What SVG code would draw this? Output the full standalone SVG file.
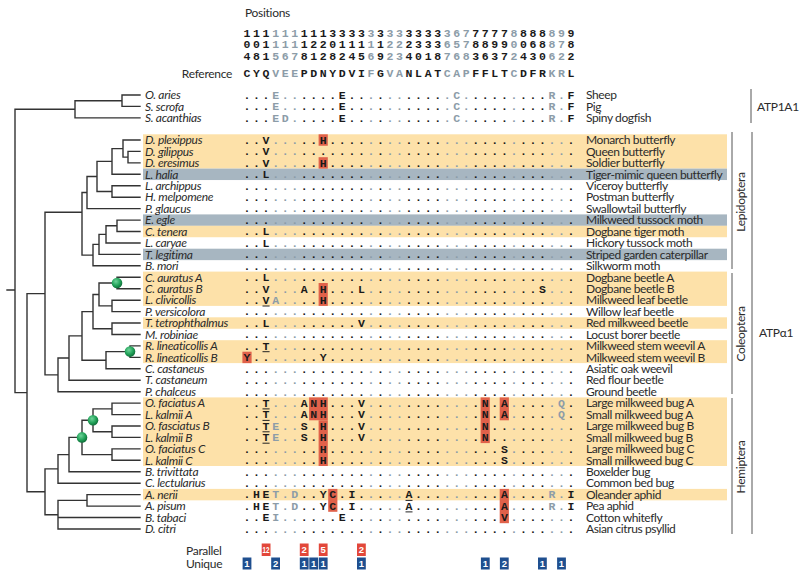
<svg xmlns="http://www.w3.org/2000/svg" width="800" height="577" viewBox="0 0 800 577">
<style>
.aln{font-family:"Liberation Mono",monospace;font-weight:bold;font-size:11.5px;letter-spacing:2.63px;fill:#1a1a1a}
.g{fill:#8c9ca8}
.lbl{font-family:Lato,"Open Sans",sans-serif;font-size:12px;letter-spacing:-0.3px;fill:#2b2b2b}
.sp{font-style:italic}
.cn{font-family:Lato,"Open Sans",sans-serif;font-size:12px;letter-spacing:-0.4px;fill:#2b2b2b}
.or{fill:#fde1a9}
.gb{fill:#a7b6c1}
.rb{fill:#e0614a}
.ul{stroke:#222;stroke-width:1}
.tree{stroke:#333;stroke-width:1.4;fill:none;stroke-linecap:square}
.br{stroke:#555;stroke-width:1;fill:none}
.pb{fill:#e2473a}
.ub{fill:#1f4f8f}
.bn{font-family:"Liberation Sans",Arial,sans-serif;font-weight:bold;font-size:9.5px;fill:#fff;text-anchor:middle}
</style>
<defs>
<radialGradient id="gd" cx="0.4" cy="0.35" r="0.65">
<stop offset="0" stop-color="#6fd39a"/>
<stop offset="0.6" stop-color="#23a35a"/>
<stop offset="1" stop-color="#10703a"/>
</radialGradient>
</defs>
<rect width="800" height="577" fill="#fff"/>

<!-- row backgrounds -->
<g id="bands">
<rect class="or" x="143" y="134.3" width="584" height="34.3"/>
<rect class="gb" x="143" y="168.6" width="584" height="11.44"/>
<rect class="gb" x="143" y="214.4" width="584" height="11.44"/>
<rect class="or" x="143" y="225.8" width="584" height="11.44"/>
<rect class="gb" x="143" y="248.7" width="584" height="11.44"/>
<rect class="or" x="143" y="271.6" width="584" height="34.3"/>
<rect class="or" x="143" y="317.3" width="584" height="11.44"/>
<rect class="or" x="143" y="340.2" width="584" height="22.9"/>
<rect class="or" x="143" y="397.4" width="584" height="68.6"/>
<rect class="or" x="143" y="488.9" width="584" height="11.44"/>
</g>

<!-- header -->
<g id="header">
<text class="lbl" x="245" y="17">Positions</text>
<text class="aln" x="243.55" y="37">111<tspan class="g">111</tspan>1113333<tspan class="g">3</tspan>3<tspan class="g">33</tspan>3333<tspan class="g">367</tspan>7777<tspan class="g">8</tspan>888<tspan class="g">89</tspan>9</text>
<text class="aln" x="243.55" y="48.4">001<tspan class="g">111</tspan>1220111<tspan class="g">1</tspan>1<tspan class="g">22</tspan>2333<tspan class="g">657</tspan>8899<tspan class="g">0</tspan>068<tspan class="g">87</tspan>8</text>
<text class="aln" x="243.55" y="59.8">481<tspan class="g">567</tspan>8128245<tspan class="g">6</tspan>9<tspan class="g">23</tspan>4018<tspan class="g">768</tspan>3637<tspan class="g">2</tspan>430<tspan class="g">62</tspan>2</text>
<text class="lbl" x="232" y="77.6" text-anchor="end">Reference</text>
<text class="aln" x="243.55" y="77.3">CYQ<tspan class="g">VEE</tspan>PDNYDVI<tspan class="g">F</tspan>G<tspan class="g">VA</tspan>NLAT<tspan class="g">CAP</tspan>FFLT<tspan class="g">C</tspan>DFR<tspan class="g">KR</tspan>L</text>
</g>

<!-- red substitution boxes -->
<g id="boxes">
<rect class="rb" x="318.6" y="134.3" width="9.2" height="11.44"/>
<rect class="rb" x="318.6" y="157.2" width="9.2" height="11.44"/>
<rect class="rb" x="318.6" y="283" width="9.2" height="22.9"/>
<rect class="rb" x="242.4" y="351.7" width="9.2" height="11.44"/>
<rect class="rb" x="309.1" y="397.4" width="18.7" height="22.9"/>
<rect class="rb" x="318.6" y="420.3" width="9.2" height="45.7"/>
<rect class="rb" x="480.6" y="397.4" width="9.2" height="45.7"/>
<rect class="rb" x="499.7" y="397.4" width="9.2" height="22.9"/>
<rect class="rb" x="328.2" y="488.9" width="9.2" height="22.9"/>
<rect class="rb" x="499.7" y="488.9" width="9.2" height="34.3"/>
</g>

<!-- vertebrate rows -->
<g id="r-oaries"><text class="lbl sp" x="145" y="99.2">O. aries</text><text class="aln" x="243.55" y="98.8">...<tspan class="g">E..</tspan>....E..<tspan class="g">.</tspan>.<tspan class="g">..</tspan>....<tspan class="g">.C.</tspan>....<tspan class="g">.</tspan>...<tspan class="g">R.</tspan>F</text><text class="cn" x="586" y="99.2">Sheep</text></g>
<g id="r-sscrofa"><text class="lbl sp" x="145" y="110.6">S. scrofa</text><text class="aln" x="243.55" y="110.2">...<tspan class="g">E..</tspan>....E..<tspan class="g">.</tspan>.<tspan class="g">..</tspan>....<tspan class="g">.C.</tspan>....<tspan class="g">.</tspan>...<tspan class="g">R.</tspan>F</text><text class="cn" x="586" y="110.6">Pig</text></g>
<g id="r-sacanthias"><text class="lbl sp" x="145" y="122.1">S. acanthias</text><text class="aln" x="243.55" y="121.7">...<tspan class="g">ED.</tspan>....E..<tspan class="g">.</tspan>.<tspan class="g">..</tspan>....<tspan class="g">.C.</tspan>....<tspan class="g">.</tspan>...<tspan class="g">R.</tspan>F</text><text class="cn" x="586" y="122.1">Spiny dogfish</text></g>

<!-- insect rows -->
<g id="r-dplexippus"><text class="lbl sp" x="145" y="144.2">D. plexippus</text><text class="aln" x="243.55" y="143.8">..V<tspan class="g">...</tspan>..H....<tspan class="g">.</tspan>.<tspan class="g">..</tspan>....<tspan class="g">...</tspan>....<tspan class="g">.</tspan>...<tspan class="g">..</tspan>.</text><text class="cn" x="586" y="144.2">Monarch butterfly</text></g>
<g id="r-dgilippus"><text class="lbl sp" x="145" y="155.6">D. gilippus</text><text class="aln" x="243.55" y="155.2">..V<tspan class="g">...</tspan>.......<tspan class="g">.</tspan>.<tspan class="g">..</tspan>....<tspan class="g">...</tspan>....<tspan class="g">.</tspan>...<tspan class="g">..</tspan>.</text><text class="cn" x="586" y="155.6">Queen butterfly</text></g>
<g id="r-deresimus"><text class="lbl sp" x="145" y="167.1">D. eresimus</text><text class="aln" x="243.55" y="166.7">..V<tspan class="g">...</tspan>..H....<tspan class="g">.</tspan>.<tspan class="g">..</tspan>....<tspan class="g">...</tspan>....<tspan class="g">.</tspan>...<tspan class="g">..</tspan>.</text><text class="cn" x="586" y="167.1">Soldier butterfly</text></g>
<g id="r-lhalia"><text class="lbl sp" x="145" y="178.5">L. halia</text><text class="aln" x="243.55" y="178.1">..L<tspan class="g">...</tspan>.......<tspan class="g">.</tspan>.<tspan class="g">..</tspan>....<tspan class="g">...</tspan>....<tspan class="g">.</tspan>...<tspan class="g">..</tspan>.</text><text class="cn" x="586" y="178.5">Tiger-mimic queen butterfly</text></g>
<g id="r-larchippus"><text class="lbl sp" x="145" y="190">L. archippus</text><text class="aln" x="243.55" y="189.6">...<tspan class="g">...</tspan>.......<tspan class="g">.</tspan>.<tspan class="g">..</tspan>....<tspan class="g">...</tspan>....<tspan class="g">.</tspan>...<tspan class="g">..</tspan>.</text><text class="cn" x="586" y="190">Viceroy butterfly</text></g>
<g id="r-hmelpomene"><text class="lbl sp" x="145" y="201.4">H. melpomene</text><text class="aln" x="243.55" y="201">...<tspan class="g">...</tspan>.......<tspan class="g">.</tspan>.<tspan class="g">..</tspan>....<tspan class="g">...</tspan>....<tspan class="g">.</tspan>...<tspan class="g">..</tspan>.</text><text class="cn" x="586" y="201.4">Postman butterfly</text></g>
<g id="r-pglaucus"><text class="lbl sp" x="145" y="212.8">P. glaucus</text><text class="aln" x="243.55" y="212.4">...<tspan class="g">...</tspan>.......<tspan class="g">.</tspan>.<tspan class="g">..</tspan>....<tspan class="g">...</tspan>....<tspan class="g">.</tspan>...<tspan class="g">..</tspan>.</text><text class="cn" x="586" y="212.8">Swallowtail butterfly</text></g>
<g id="r-eegle"><text class="lbl sp" x="145" y="224.3">E. egle</text><text class="aln" x="243.55" y="223.9">...<tspan class="g">...</tspan>.......<tspan class="g">.</tspan>.<tspan class="g">..</tspan>....<tspan class="g">...</tspan>....<tspan class="g">.</tspan>...<tspan class="g">..</tspan>.</text><text class="cn" x="586" y="224.3">Milkweed tussock moth</text></g>
<g id="r-ctenera"><text class="lbl sp" x="145" y="235.7">C. tenera</text><text class="aln" x="243.55" y="235.3">..L<tspan class="g">...</tspan>.......<tspan class="g">.</tspan>.<tspan class="g">..</tspan>....<tspan class="g">...</tspan>....<tspan class="g">.</tspan>...<tspan class="g">..</tspan>.</text><text class="cn" x="586" y="235.7">Dogbane tiger moth</text></g>
<g id="r-lcaryae"><text class="lbl sp" x="145" y="247.2">L. caryae</text><text class="aln" x="243.55" y="246.8">..L<tspan class="g">...</tspan>.......<tspan class="g">.</tspan>.<tspan class="g">..</tspan>....<tspan class="g">...</tspan>....<tspan class="g">.</tspan>...<tspan class="g">..</tspan>.</text><text class="cn" x="586" y="247.2">Hickory tussock moth</text></g>
<g id="r-tlegitima"><text class="lbl sp" x="145" y="258.6">T. legitima</text><text class="aln" x="243.55" y="258.2">...<tspan class="g">...</tspan>.......<tspan class="g">.</tspan>.<tspan class="g">..</tspan>....<tspan class="g">...</tspan>....<tspan class="g">.</tspan>...<tspan class="g">..</tspan>.</text><text class="cn" x="586" y="258.6">Striped garden caterpillar</text></g>
<g id="r-bmori"><text class="lbl sp" x="145" y="270">B. mori</text><text class="aln" x="243.55" y="269.6">...<tspan class="g">...</tspan>.......<tspan class="g">.</tspan>.<tspan class="g">..</tspan>....<tspan class="g">...</tspan>....<tspan class="g">.</tspan>...<tspan class="g">..</tspan>.</text><text class="cn" x="586" y="270">Silkworm moth</text></g>
<g id="r-cauratusA"><text class="lbl sp" x="145" y="281.5">C. auratus A</text><text class="aln" x="243.55" y="281.1">..L<tspan class="g">...</tspan>.......<tspan class="g">.</tspan>.<tspan class="g">..</tspan>....<tspan class="g">...</tspan>....<tspan class="g">.</tspan>...<tspan class="g">..</tspan>.</text><text class="cn" x="586" y="281.5">Dogbane beetle A</text></g>
<g id="r-cauratusB"><text class="lbl sp" x="145" y="292.9">C. auratus B</text><text class="aln" x="243.55" y="292.5">..V<tspan class="g">...</tspan>A.H...L<tspan class="g">.</tspan>.<tspan class="g">..</tspan>....<tspan class="g">...</tspan>....<tspan class="g">.</tspan>..S<tspan class="g">..</tspan>.</text><text class="cn" x="586" y="292.9">Dogbane beetle B</text></g>
<g id="r-lclivicollis"><text class="lbl sp" x="145" y="304.4">L. clivicollis</text><text class="aln" x="243.55" y="304">..V<tspan class="g">A..</tspan>..H....<tspan class="g">.</tspan>.<tspan class="g">..</tspan>....<tspan class="g">...</tspan>....<tspan class="g">.</tspan>...<tspan class="g">..</tspan>.</text><text class="cn" x="586" y="304.4">Milkweed leaf beetle</text></g>
<g id="r-pversicolora"><text class="lbl sp" x="145" y="315.8">P. versicolora</text><text class="aln" x="243.55" y="315.4">...<tspan class="g">...</tspan>.......<tspan class="g">.</tspan>.<tspan class="g">..</tspan>....<tspan class="g">...</tspan>....<tspan class="g">.</tspan>...<tspan class="g">..</tspan>.</text><text class="cn" x="586" y="315.8">Willow leaf beetle</text></g>
<g id="r-ttetrophthalmus"><text class="lbl sp" x="145" y="327.2">T. tetrophthalmus</text><text class="aln" x="243.55" y="326.8">..L<tspan class="g">...</tspan>......V<tspan class="g">.</tspan>.<tspan class="g">..</tspan>....<tspan class="g">...</tspan>....<tspan class="g">.</tspan>...<tspan class="g">..</tspan>.</text><text class="cn" x="586" y="327.2">Red milkweed beetle</text></g>
<g id="r-mrobiniae"><text class="lbl sp" x="145" y="338.7">M. robiniae</text><text class="aln" x="243.55" y="338.3">...<tspan class="g">...</tspan>.......<tspan class="g">.</tspan>.<tspan class="g">..</tspan>....<tspan class="g">...</tspan>....<tspan class="g">.</tspan>...<tspan class="g">..</tspan>.</text><text class="cn" x="586" y="338.7">Locust borer beetle</text></g>
<g id="r-rlineaticollisA"><text class="lbl sp" x="145" y="350.1">R. lineaticollis A</text><text class="aln" x="243.55" y="349.7">..T<tspan class="g">...</tspan>.......<tspan class="g">.</tspan>.<tspan class="g">..</tspan>....<tspan class="g">...</tspan>....<tspan class="g">.</tspan>...<tspan class="g">..</tspan>.</text><text class="cn" x="586" y="350.1">Milkweed stem weevil A</text></g>
<g id="r-rlineaticollisB"><text class="lbl sp" x="145" y="361.6">R. lineaticollis B</text><text class="aln" x="243.55" y="361.2">Y..<tspan class="g">...</tspan>..Y....<tspan class="g">.</tspan>.<tspan class="g">..</tspan>....<tspan class="g">...</tspan>....<tspan class="g">.</tspan>...<tspan class="g">..</tspan>.</text><text class="cn" x="586" y="361.6">Milkweed stem weevil B</text></g>
<g id="r-ccastaneus"><text class="lbl sp" x="145" y="373">C. castaneus</text><text class="aln" x="243.55" y="372.6">...<tspan class="g">...</tspan>.......<tspan class="g">.</tspan>.<tspan class="g">..</tspan>....<tspan class="g">...</tspan>....<tspan class="g">.</tspan>...<tspan class="g">..</tspan>.</text><text class="cn" x="586" y="373">Asiatic oak weevil</text></g>
<g id="r-tcastaneum"><text class="lbl sp" x="145" y="384.4">T. castaneum</text><text class="aln" x="243.55" y="384">...<tspan class="g">...</tspan>.......<tspan class="g">.</tspan>.<tspan class="g">..</tspan>....<tspan class="g">...</tspan>....<tspan class="g">.</tspan>...<tspan class="g">..</tspan>.</text><text class="cn" x="586" y="384.4">Red flour beetle</text></g>
<g id="r-pchalceus"><text class="lbl sp" x="145" y="395.9">P. chalceus</text><text class="aln" x="243.55" y="395.5">...<tspan class="g">...</tspan>.......<tspan class="g">.</tspan>.<tspan class="g">..</tspan>....<tspan class="g">...</tspan>....<tspan class="g">.</tspan>...<tspan class="g">..</tspan>.</text><text class="cn" x="586" y="395.9">Ground beetle</text></g>
<g id="r-ofaciatusA"><text class="lbl sp" x="145" y="407.3">O. faciatus A</text><text class="aln" x="243.55" y="406.9">..T<tspan class="g">...</tspan>ANH...V<tspan class="g">.</tspan>.<tspan class="g">..</tspan>....<tspan class="g">...</tspan>.N.A<tspan class="g">.</tspan>...<tspan class="g">.Q</tspan>.</text><text class="cn" x="586" y="407.3">Large milkweed bug A</text></g>
<g id="r-lkalmiiA"><text class="lbl sp" x="145" y="418.8">L. kalmii A</text><text class="aln" x="243.55" y="418.4">..T<tspan class="g">...</tspan>ANH...V<tspan class="g">.</tspan>.<tspan class="g">..</tspan>....<tspan class="g">...</tspan>.N.A<tspan class="g">.</tspan>...<tspan class="g">.Q</tspan>.</text><text class="cn" x="586" y="418.8">Small milkweed bug A</text></g>
<g id="r-ofasciatusB"><text class="lbl sp" x="145" y="430.2">O. fasciatus B</text><text class="aln" x="243.55" y="429.8">..T<tspan class="g">E..</tspan>S.H...V<tspan class="g">.</tspan>.<tspan class="g">..</tspan>....<tspan class="g">...</tspan>.N..<tspan class="g">.</tspan>...<tspan class="g">..</tspan>.</text><text class="cn" x="586" y="430.2">Large milkweed bug B</text></g>
<g id="r-lkalmiiB"><text class="lbl sp" x="145" y="441.6">L. kalmii B</text><text class="aln" x="243.55" y="441.2">..T<tspan class="g">E..</tspan>S.H...V<tspan class="g">.</tspan>.<tspan class="g">..</tspan>....<tspan class="g">...</tspan>.N..<tspan class="g">.</tspan>...<tspan class="g">..</tspan>.</text><text class="cn" x="586" y="441.6">Small milkweed bug B</text></g>
<g id="r-ofaciatusC"><text class="lbl sp" x="145" y="453.1">O. faciatus C</text><text class="aln" x="243.55" y="452.7">...<tspan class="g">...</tspan>..H....<tspan class="g">.</tspan>.<tspan class="g">..</tspan>....<tspan class="g">...</tspan>...S<tspan class="g">.</tspan>...<tspan class="g">..</tspan>.</text><text class="cn" x="586" y="453.1">Large milkweed bug C</text></g>
<g id="r-lkalmiiC"><text class="lbl sp" x="145" y="464.5">L. kalmii C</text><text class="aln" x="243.55" y="464.1">...<tspan class="g">...</tspan>..H....<tspan class="g">.</tspan>.<tspan class="g">..</tspan>....<tspan class="g">...</tspan>...S<tspan class="g">.</tspan>...<tspan class="g">..</tspan>.</text><text class="cn" x="586" y="464.5">Small milkweed bug C</text></g>
<g id="r-btrivittata"><text class="lbl sp" x="145" y="476">B. trivittata</text><text class="aln" x="243.55" y="475.6">...<tspan class="g">...</tspan>.......<tspan class="g">.</tspan>.<tspan class="g">..</tspan>....<tspan class="g">...</tspan>....<tspan class="g">.</tspan>...<tspan class="g">..</tspan>.</text><text class="cn" x="586" y="476">Boxelder bug</text></g>
<g id="r-clectularius"><text class="lbl sp" x="145" y="487.4">C. lectularius</text><text class="aln" x="243.55" y="487">...<tspan class="g">...</tspan>.......<tspan class="g">.</tspan>.<tspan class="g">..</tspan>....<tspan class="g">...</tspan>....<tspan class="g">.</tspan>...<tspan class="g">..</tspan>.</text><text class="cn" x="586" y="487.4">Common bed bug</text></g>
<g id="r-anerii"><text class="lbl sp" x="145" y="498.8">A. nerii</text><text class="aln" x="243.55" y="498.4">.HE<tspan class="g">T.D</tspan>..YC.I.<tspan class="g">.</tspan>.<tspan class="g">..</tspan>A...<tspan class="g">...</tspan>...A<tspan class="g">.</tspan>...<tspan class="g">R.</tspan>I</text><text class="cn" x="586" y="498.8">Oleander aphid</text></g>
<g id="r-apisum"><text class="lbl sp" x="145" y="510.3">A. pisum</text><text class="aln" x="243.55" y="509.9">.HE<tspan class="g">T.D</tspan>..YC.I.<tspan class="g">.</tspan>.<tspan class="g">..</tspan>A...<tspan class="g">...</tspan>...A<tspan class="g">.</tspan>...<tspan class="g">R.</tspan>I</text><text class="cn" x="586" y="510.3">Pea aphid</text></g>
<g id="r-btabaci"><text class="lbl sp" x="145" y="521.7">B. tabaci</text><text class="aln" x="243.55" y="521.3">..E<tspan class="g">I..</tspan>....E..<tspan class="g">.</tspan>.<tspan class="g">..</tspan>....<tspan class="g">...</tspan>...V<tspan class="g">.</tspan>...<tspan class="g">..</tspan>.</text><text class="cn" x="586" y="521.7">Cotton whitefly</text></g>
<g id="r-dcitri"><text class="lbl sp" x="145" y="533.2">D. citri</text><text class="aln" x="243.55" y="532.8">...<tspan class="g">...</tspan>.......<tspan class="g">.</tspan>.<tspan class="g">..</tspan>....<tspan class="g">...</tspan>....<tspan class="g">.</tspan>...<tspan class="g">..</tspan>.</text><text class="cn" x="586" y="533.2">Asian citrus psyllid</text></g>

<!-- underlines -->
<g id="underlines" class="ul">
<line x1="262.5" y1="306" x2="269.6" y2="306"/>
<line x1="262.5" y1="351.7" x2="269.6" y2="351.7"/>
<line x1="262.5" y1="408.9" x2="269.6" y2="408.9"/>
<line x1="262.5" y1="420.4" x2="269.6" y2="420.4"/>
<line x1="262.5" y1="431.8" x2="269.6" y2="431.8"/>
<line x1="262.5" y1="443.2" x2="269.6" y2="443.2"/>
<line x1="405.5" y1="500.4" x2="412.5" y2="500.4"/>
<line x1="405.5" y1="511.9" x2="412.5" y2="511.9"/>
</g>

<!-- tree connectors -->
<g id="connectors">
<path class="tree" d="M122 95V106.4M122 95H140M122 106.4H140M75 100.7V117.9M75 100.7H122M75 117.9H140M15 109.3V392.6M15 109.3H75M15 392.6H27M7 290H15
M27 293.6V491.8M27 293.6H45M27 491.8H45M45 212.3V374.9M45 212.3H82M45 374.9H58
M82 192.5V255.1M82 192.5H87M82 255.1H93M87 176.5V208.6M87 176.5H97M87 208.6H140M97 161.4V191.5M97 161.4H112M97 191.5H112
M112 148.6V174.3M112 148.6H123M112 174.3H140M112 185.8V197.2M112 185.8H140M112 197.2H140M123 140V157.1M123 140H140M123 157.1H128M128 151.4V162.9M128 151.4H140M128 162.9H140
M117 220.1V231.5M117 220.1H140M117 231.5H140M106 225.8V243M106 225.8H117M106 243H140M99 234.4V254.4M99 234.4H106M99 254.4H140M93 244.4V265.8M93 244.4H99M93 265.8H140
M117 277.3V288.7M117 277.3H140M117 288.7H140M112 300.2V311.6M112 300.2H140M112 311.6H140M99 283V305.9M99 283H117M99 305.9H112M112 323V334.5M112 323H140M112 334.5H140M93 294.5V328.7M93 294.5H99M93 328.7H112
M130 345.9V357.4M130 345.9H140M130 357.4H140M106 351.6V368.8M106 351.6H130M106 368.8H140M82 311.6V360.2M82 311.6H93M82 360.2H106M69 335.9V380.2M69 335.9H82M69 380.2H140M58 358V391.7M58 358H69M58 391.7H140
M112 403.1V414.6M112 403.1H140M112 414.6H140M112 426V437.4M112 426H140M112 437.4H140M112 448.9V460.3M112 448.9H140M112 460.3H140M93 408.9V431.7M93 408.9H112M93 431.7H112M82 420.3V454.6M82 420.3H93M82 454.6H112M69 437.4V471.8M69 437.4H82M69 471.8H140M58 454.6V483.2M58 454.6H69M58 483.2H140
M87 494.6V506.1M87 494.6H140M87 506.1H140M58 500.4V529M58 500.4H87M58 517.5H140M58 529H140M45 468.9V514.7M45 468.9H58M45 514.7H58"/>
</g>

<!-- duplication nodes -->
<g id="dots">
<circle cx="117" cy="283" r="5.3" fill="url(#gd)"/>
<circle cx="130" cy="351.6" r="5.3" fill="url(#gd)"/>
<circle cx="93" cy="420.3" r="5.3" fill="url(#gd)"/>
<circle cx="82" cy="437.4" r="5.3" fill="url(#gd)"/>
</g>

<!-- brackets -->
<g id="brackets">
<line class="br" x1="751" y1="89" x2="751" y2="123"/>
<text class="lbl" x="757" y="111">ATP1A1</text>
<line class="br" x1="752" y1="132" x2="752" y2="534"/>
<text class="lbl" x="759" y="337">ATPα1</text>
<line class="br" x1="732" y1="132" x2="732" y2="269"/>
<text class="lbl" transform="translate(745 202) rotate(-90)" text-anchor="middle">Lepidoptera</text>
<line class="br" x1="732" y1="273" x2="732" y2="394"/>
<text class="lbl" transform="translate(745 334) rotate(-90)" text-anchor="middle">Coleoptera</text>
<line class="br" x1="732" y1="398" x2="732" y2="534"/>
<text class="lbl" transform="translate(745 467) rotate(-90)" text-anchor="middle">Hemiptera</text>
</g>

<!-- parallel / unique counts -->
<g id="counts">
<text class="lbl" x="186" y="554.5">Parallel</text>
<text class="lbl" x="186" y="567.5">Unique</text>
<rect class="pb" x="261.7" y="543.5" width="8.8" height="12.5"/>
<text class="bn" x="266.1" y="553" textLength="7" lengthAdjust="spacingAndGlyphs">12</text>
<rect class="pb" x="299.8" y="543.5" width="8.8" height="12.5"/>
<text class="bn" x="304.2" y="553">2</text>
<rect class="pb" x="318.8" y="543.5" width="8.8" height="12.5"/>
<text class="bn" x="323.2" y="553">5</text>
<rect class="pb" x="357" y="543.5" width="8.8" height="12.5"/>
<text class="bn" x="361.4" y="553">2</text>
<rect class="ub" x="242.6" y="557.5" width="8.8" height="12"/>
<text class="bn" x="247" y="566.8">1</text>
<rect class="ub" x="271.2" y="557.5" width="8.8" height="12"/>
<text class="bn" x="275.6" y="566.8">2</text>
<rect class="ub" x="299.8" y="557.5" width="8.8" height="12"/>
<text class="bn" x="304.2" y="566.8">1</text>
<rect class="ub" x="309.3" y="557.5" width="8.8" height="12"/>
<text class="bn" x="313.7" y="566.8">1</text>
<rect class="ub" x="318.8" y="557.5" width="8.8" height="12"/>
<text class="bn" x="323.2" y="566.8">1</text>
<rect class="ub" x="357" y="557.5" width="8.8" height="12"/>
<text class="bn" x="361.4" y="566.8">1</text>
<rect class="ub" x="480.9" y="557.5" width="8.8" height="12"/>
<text class="bn" x="485.3" y="566.8">1</text>
<rect class="ub" x="499.9" y="557.5" width="8.8" height="12"/>
<text class="bn" x="504.3" y="566.8">2</text>
<rect class="ub" x="538" y="557.5" width="8.8" height="12"/>
<text class="bn" x="542.4" y="566.8">1</text>
<rect class="ub" x="557.1" y="557.5" width="8.8" height="12"/>
<text class="bn" x="561.5" y="566.8">1</text>
</g>
</svg>
